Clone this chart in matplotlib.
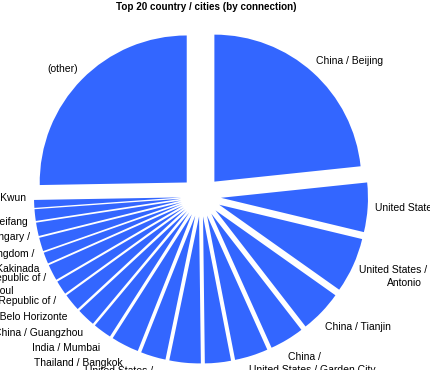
import matplotlib
matplotlib.use("Agg")
import matplotlib.pyplot as plt
import numpy as np

plt.rcParams['font.family'] = ['Liberation Sans', 'DejaVu Sans']

title = "Top 20 country / cities (by connection)"
labels = [
    "China / Beijing",
    "United States / Dallas",
    "United States / San\nAntonio",
    "China / Tianjin",
    "China /",
    "United States / Garden City",
    "China / Shanghai",
    "United States / Ashburn",
    "United States /",
    "Thailand / Bangkok",
    "India / Mumbai",
    "China / Guangzhou",
    "Brazil / Belo Horizonte",
    "Korea, Republic of /",
    "Korea, Republic of /\nSeoul",
    "India / Kakinada",
    "United Kingdom /",
    "Hungary /",
    "China / Weifang",
    "Hong Kong / Kwun\nTong",
    "(other)",
]
connections = [840, 195, 218, 169, 136, 132, 103, 124, 99, 110,
               73, 73, 69, 56, 64, 45, 54, 53, 46, 31, 910]

W, H = 430, 370
cx, cy = 201, 196.5   # pixel coords of pie centre
R = 147
explode_px = 20

fig = plt.figure(figsize=(W / 100, H / 100), dpi=100)
ax = fig.add_axes([0, 0, 1, 1])
wedges, texts = ax.pie(
    connections,
    labels=labels,
    explode=[explode_px] * len(connections),
    startangle=90,
    counterclock=False,
    radius=R,
    center=(cx, H - cy),
    colors=['#3366FF'] * len(connections),
    labeldistance=1.1,
    wedgeprops=dict(linewidth=0),
    textprops=dict(fontsize=7.5, color='black', multialignment='center',
                   linespacing=1.35),
    frame=True,
)

# label alignment relative to the pie centre (not the data origin)
for w, t in zip(wedges, texts):
    x, y = t.get_position()
    mid = np.deg2rad((w.theta1 + w.theta2) / 2)
    c, s = np.cos(mid), np.sin(mid)
    if x < cx:
        t.set_ha('right')
        dx = 7 if c < -0.5 else 4
    else:
        t.set_ha('left')
        dx = -7
    dy = -5 if -0.95 < s < -0.1 else 0
    t.set_position((x + dx, y + dy))

ax.set_xlim(0, W)
ax.set_ylim(0, H)
ax.set_aspect('equal')
ax.axis('off')

fig.text(206 / W, 1 - 6.5 / H, title, ha='center', va='center',
         fontsize=7.1, fontweight='bold')

fig.savefig("out.png", dpi=100)
